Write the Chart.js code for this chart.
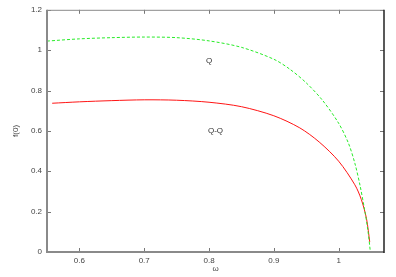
<!DOCTYPE html>
<html lang="en">
<head>
    <meta charset="UTF-8">
    <title>f(0) vs omega</title>
    <style>
        html, body { margin: 0; padding: 0; background: #fff; }
        #wrap { width: 396px; height: 277px; }
    </style>
</head>
<body>
    <div id="wrap"><canvas id="myChart" width="396" height="277"></canvas></div>
    <script src="https://cdn.jsdelivr.net/npm/chart.js@4/dist/chart.umd.min.js"></script>
    <script>
        // Q curve (green, dashed)
        const omegaQ = [0.55, 0.6, 0.65, 0.7, 0.75, 0.8, 0.85, 0.9, 0.925, 0.95, 0.975, 1.0, 1.015, 1.025, 1.033, 1.04, 1.045, 1.049];
        const fQ = [1.045, 1.056, 1.062, 1.065, 1.062, 1.046, 1.014, 0.955, 0.905, 0.838, 0.752, 0.638, 0.54, 0.44, 0.33, 0.21, 0.11, 0.0];

        // Q-Q curve (red, solid)
        const omegaQQ = [0.558, 0.6, 0.65, 0.7, 0.75, 0.8, 0.85, 0.9, 0.94, 0.97, 1.0, 1.025, 1.035, 1.043, 1.048];
        const fQQ = [0.737, 0.744, 0.75, 0.754, 0.752, 0.742, 0.72, 0.675, 0.615, 0.545, 0.45, 0.333, 0.26, 0.165, 0.05];

        const xTicks = [0.6, 0.7, 0.8, 0.9, 1];
        const yTicks = [0, 0.2, 0.4, 0.6, 0.8, 1, 1.2];

        // text labels placed in data coordinates
        const curveLabels = [
            { text: 'Q', x: 0.80, y: 0.948 },
            { text: 'Q-Q', x: 0.81, y: 0.60 }
        ];

        const toPoints = (xs, ys) => xs.map((x, i) => ({ x: x, y: ys[i] }));

        // draws frame, inward ticks on all sides, and the curve labels
        const framePlugin = {
            id: 'frame',
            afterDraw(chart) {
                const ctx = chart.ctx;
                const a = chart.chartArea;
                const xs = chart.scales.x, ys = chart.scales.y;
                ctx.save();
                ctx.lineCap = 'butt';
                // ticks
                ctx.strokeStyle = '#777';
                ctx.lineWidth = 1;
                xTicks.forEach(v => {
                    const px = Math.round(xs.getPixelForValue(v)) + 0.5;
                    ctx.beginPath();
                    ctx.moveTo(px, a.bottom); ctx.lineTo(px, a.bottom - 4);
                    ctx.moveTo(px, a.top); ctx.lineTo(px, a.top + 4);
                    ctx.stroke();
                });
                yTicks.forEach(v => {
                    const py = Math.round(ys.getPixelForValue(v)) + 0.5;
                    ctx.beginPath();
                    ctx.moveTo(a.left, py); ctx.lineTo(a.left + 4, py);
                    ctx.moveTo(a.right, py); ctx.lineTo(a.right - 4, py);
                    ctx.stroke();
                });
                // frame
                ctx.strokeStyle = '#8a8a8a';
                ctx.lineWidth = 1;
                ctx.beginPath();
                ctx.moveTo(a.left, a.top + 0.5); ctx.lineTo(a.right, a.top + 0.5);
                ctx.stroke();
                ctx.lineWidth = 2;
                ctx.beginPath();
                ctx.moveTo(a.left, a.top); ctx.lineTo(a.left, a.bottom);
                ctx.lineTo(a.right, a.bottom);
                ctx.stroke();
                ctx.strokeStyle = '#222';
                ctx.lineWidth = 1.5;
                ctx.beginPath();
                ctx.moveTo(a.right, a.top); ctx.lineTo(a.right, a.bottom + 1);
                ctx.stroke();
                // curve labels
                ctx.fillStyle = '#333';
                ctx.font = '8px "Liberation Sans", Arial, sans-serif';
                ctx.textAlign = 'center';
                ctx.textBaseline = 'middle';
                curveLabels.forEach(l => {
                    ctx.fillText(l.text, xs.getPixelForValue(l.x), ys.getPixelForValue(l.y));
                });
                ctx.restore();
            }
        };

        const tickFont = { family: '"Liberation Sans", Arial, sans-serif', size: 8 };

        const config = {
            type: 'scatter',
            data: {
                datasets: [
                    {
                        label: 'Q',
                        data: toPoints(omegaQ, fQ),
                        showLine: true,
                        borderColor: 'rgb(40, 235, 40)',
                        borderWidth: 1,
                        borderDash: [3, 2],
                        pointRadius: 0,
                        tension: 0.3
                    },
                    {
                        label: 'Q-Q',
                        data: toPoints(omegaQQ, fQQ),
                        showLine: true,
                        borderColor: 'rgb(255, 20, 20)',
                        borderWidth: 1,
                        pointRadius: 0,
                        tension: 0.3
                    }
                ]
            },
            options: {
                responsive: false,
                animation: false,
                devicePixelRatio: 1,
                layout: { padding: { left: 0, right: 12, top: 9, bottom: 0 } },
                plugins: {
                    legend: { display: false },
                    tooltip: { enabled: false }
                },
                scales: {
                    x: {
                        type: 'linear',
                        min: 0.55,
                        max: 1.07,
                        border: { display: false },
                        grid: { display: false, drawTicks: false },
                        afterBuildTicks: s => { s.ticks = xTicks.map(v => ({ value: v })); },
                        afterFit: s => { s.height = 25; },
                        ticks: {
                            padding: 4,
                            color: '#444',
                            font: tickFont,
                            maxRotation: 0,
                            callback: v => String(v)
                        },
                        title: {
                            display: true,
                            text: 'ω',
                            color: '#444',
                            font: tickFont,
                            padding: { top: 0, bottom: 3 }
                        }
                    },
                    y: {
                        type: 'linear',
                        min: 0,
                        max: 1.2,
                        border: { display: false },
                        grid: { display: false, drawTicks: false },
                        afterBuildTicks: s => { s.ticks = yTicks.map(v => ({ value: v })); },
                        afterFit: s => { s.width = 47; },
                        ticks: {
                            padding: 5,
                            color: '#444',
                            font: tickFont,
                            callback: v => String(v)
                        },
                        title: {
                            display: true,
                            text: 'f(0)',
                            color: '#444',
                            font: tickFont,
                            padding: { top: 11, bottom: 0 }
                        }
                    }
                }
            },
            plugins: [framePlugin]
        };

        const myChart = new Chart(document.getElementById('myChart'), config);
    </script>
</body>
</html>
